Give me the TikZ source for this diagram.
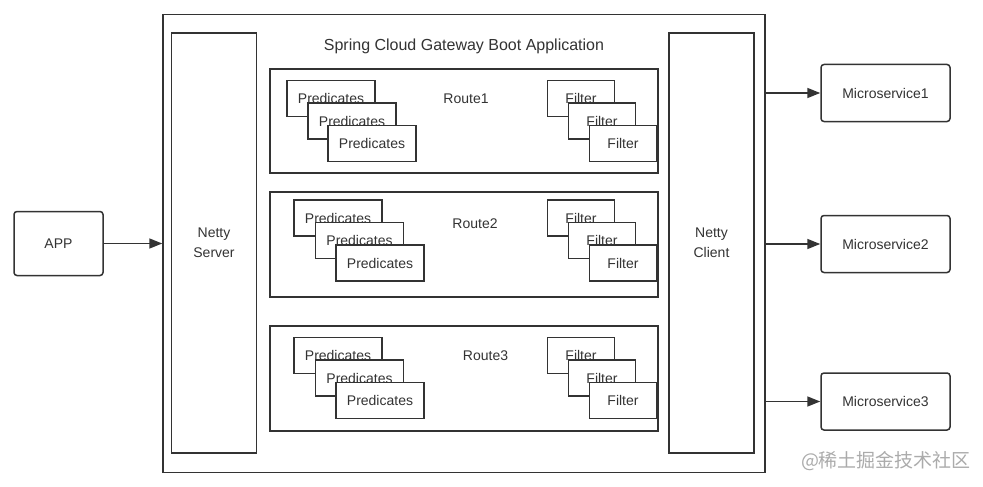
\documentclass[tikz,border=0pt]{standalone}
\usepackage{fontspec}
\setmainfont{Liberation Sans}
\newfontfamily\cjk{Noto Sans CJK SC}
\usetikzlibrary{arrows.meta}
\definecolor{linegray}{HTML}{333333}
\definecolor{markgray}{HTML}{ABABAB}

\begin{document}
\begin{tikzpicture}[x=1pt, y=-1pt,
	box/.style={draw=linegray, line width=1.5pt, fill=white, inner sep=0pt, text=linegray, align=center, font=\fontsize{14}{20}\selectfont},
	predbox/.style={box, minimum width=88pt, minimum height=36pt},
	filterbox/.style={box, minimum width=67pt, minimum height=36pt},
	routebox/.style={box, minimum width=388pt, minimum height=105pt},
	nettybox/.style={box, minimum width=85pt, minimum height=420pt},
	endbox/.style={box, rounded corners=3pt, minimum height=57pt},
	label/.style={text=linegray, font=\fontsize{14}{16}\selectfont},
	arrow/.style={draw=linegray, line width=1.6pt, -{Triangle[length=13pt, width=10pt]}}
	]
	\useasboundingbox (0,0) rectangle (983,487);

	% Gateway frame
	\node[box, minimum width=602pt, minimum height=458pt] (gateway) at (464,243.5) {};
	\node[text=linegray, font=\fontsize{16}{18}\selectfont] (title) at (464,46) {Spring Cloud Gateway Boot Application};

	% Netty server and client
	\node[nettybox] (server) at (214,243) {Netty\\Server};
	\node[nettybox] (client) at (711.5,243) {Netty\\Client};

	% Route1
	\node[routebox, minimum height=104pt] (route1) at (464,121) {};
	\node[label] (r1name) at (466,99) {Route1};
	\node[predbox] (r1p1) at (331,98.5) {Predicates};
	\node[predbox] (r1p2) at (352,121) {Predicates};
	\node[predbox] (r1p3) at (372,143.5) {Predicates};
	\node[filterbox] (r1f1) at (581,98.5) {Filter};
	\node[filterbox] (r1f2) at (602,121) {Filter};
	\node[filterbox] (r1f3) at (623,143.5) {Filter};

	% Route2
	\node[routebox] (route2) at (464,244.5) {};
	\node[label] (r2name) at (475,223.5) {Route2};
	\node[predbox] (r2p1) at (338,218) {Predicates};
	\node[predbox] (r2p2) at (359.5,240.5) {Predicates};
	\node[predbox] (r2p3) at (380,263) {Predicates};
	\node[filterbox] (r2f1) at (581,218) {Filter};
	\node[filterbox] (r2f2) at (602,240.5) {Filter};
	\node[filterbox] (r2f3) at (623,263) {Filter};

	% Route3
	\node[routebox] (route3) at (464,378.5) {};
	\node[label] (r3name) at (485.5,356) {Route3};
	\node[predbox] (r3p1) at (338,355.5) {Predicates};
	\node[predbox] (r3p2) at (359.5,378) {Predicates};
	\node[predbox] (r3p3) at (380,400.5) {Predicates};
	\node[filterbox] (r3f1) at (581,355.5) {Filter};
	\node[filterbox] (r3f2) at (602,378) {Filter};
	\node[filterbox] (r3f3) at (623,400.5) {Filter};

	% Client side and services
	\node[endbox, minimum width=89pt, minimum height=64pt] (app) at (58.5,243.5) {APP};
	\node[endbox, minimum width=129pt] (ms1) at (885.5,93) {Microservice1};
	\node[endbox, minimum width=129pt] (ms2) at (885.5,244) {Microservice2};
	\node[endbox, minimum width=129pt] (ms3) at (885.5,401.5) {Microservice3};

	% Arrows
	\draw[arrow] (app) -- (gateway);
	\draw[arrow] (ms1.west -| gateway.east) -- (ms1);
	\draw[arrow] (ms2.west -| gateway.east) -- (ms2);
	\draw[arrow] (ms3.west -| gateway.east) -- (ms3);

	% Watermark
	\node[text=markgray, font=\cjk\fontsize{19}{20}\selectfont] (mark) at (886,461) {@稀土掘金技术社区};
\end{tikzpicture}
\end{document}
